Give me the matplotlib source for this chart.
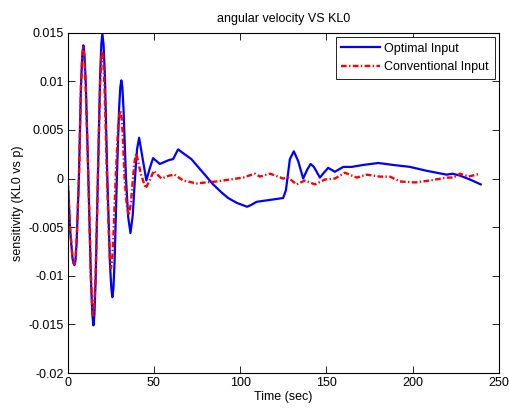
import numpy as np
import matplotlib
matplotlib.use('Agg')
import matplotlib.pyplot as plt
from matplotlib.ticker import FuncFormatter

plt.rcParams['font.family'] = ['Liberation Sans', 'DejaVu Sans']

# values
t_opt = [0, 1.5, 2.8, 3.3, 3.9, 4.5, 5.2, 6.5, 7.7, 8.5, 9.1, 9.7, 10.5, 12.0, 13.5,
         14.3, 14.9, 15.5, 16.2, 17.5, 18.8, 19.5, 20.1, 20.8, 21.6, 23.0, 24.5, 25.3,
         25.9, 26.5, 27.2, 28.5, 29.8, 30.5, 31.1, 31.7, 32.4, 33.8, 35.1, 36.4,
         37.7, 39.0, 40.2, 41.4, 43.5, 45.6, 47.5, 49.5, 53.4, 58.6, 61.1, 64.0, 67.0,
         71.7, 78.5, 84.3, 89.0, 93.0, 98.0, 104.0, 106.5, 109.4, 113.0, 117.2, 121.0,
         124.9, 126.5, 128.8, 131.1, 133.6, 136.5, 138.8, 140.8, 142.7, 146.2, 148.5,
         151.0, 154.9, 159.7, 164.6, 171.3, 180.0, 188.7, 198.4, 208.0, 219.7, 223.1,
         227.4, 233.2, 239.4]
v_opt = [0.0, -0.0055, -0.0082, -0.0087, -0.0089, -0.0085, -0.0065, 0.0, 0.0095,
         0.0128, 0.0137, 0.0128, 0.0098, 0.0, -0.0105, -0.0140, -0.0151, -0.0140,
         -0.0105, 0.0, 0.0105, 0.0138, 0.0149, 0.0138, 0.0105, 0.0, -0.0087, -0.0113,
         -0.0122, -0.0113, -0.0085, 0.0, 0.0072, 0.0094, 0.0101, 0.0094, 0.0070, 0.0,
         -0.0040, -0.0056, -0.0038, 0.0, 0.0030, 0.0042, 0.0020, -0.0002, 0.0010,
         0.0021, 0.0015, 0.0019, 0.0020, 0.0030, 0.0026, 0.0020, 0.0006, -0.0006,
         -0.0014, -0.0020, -0.0025, -0.0029, -0.0027, -0.0024, -0.0023, -0.0022,
         -0.0021, -0.0020, -0.0012, 0.0020, 0.0028, 0.0018, 0.0000, 0.0009, 0.0015,
         0.0012, 0.0001, 0.0006, 0.0011, 0.0007, 0.0012, 0.0012, 0.0014, 0.0016, 0.0014,
         0.0012, 0.0008, 0.0004, 0.0005, 0.0003, -0.0001, -0.0006]

t_conv = [0, 1.5, 2.8, 3.3, 3.9, 4.5, 5.2, 6.5, 7.7, 8.4, 9.0, 9.6, 10.4, 12.0, 13.4,
          14.2, 14.8, 15.4, 16.2, 17.5, 18.7, 19.4, 20.0, 20.6, 21.4, 22.8, 24.0, 24.6,
          25.1, 25.7, 26.4, 27.8, 29.1, 29.9, 30.5, 31.1, 31.8, 33.0, 34.2, 35.4,
          36.6, 37.8, 38.8, 39.8, 42.5, 45.2, 47.5, 49.9, 54.3, 58.8, 62.0, 66.9, 74.6,
          80.0, 86.2, 94.0, 101.7, 108.5, 111.4, 117.2, 120.5, 124.9, 127.8, 132.7,
          137.5, 143.3, 149.1, 154.9, 160.7, 167.5, 173.3, 181.0, 186.8, 192.6, 201.3,
          210.0, 219.7, 223.5, 227.4, 232.3, 239.0]
v_conv = [0.0, -0.0054, -0.0081, -0.0086, -0.0088, -0.0084, -0.0063, 0.0, 0.0094,
          0.0126, 0.0135, 0.0126, 0.0096, 0.0, -0.0098, -0.0131, -0.0141, -0.0131,
          -0.0099, 0.0, 0.0093, 0.0122, 0.0131, 0.0122, 0.0092, 0.0, -0.0065, -0.0086,
          -0.0092, -0.0086, -0.0064, 0.0, 0.0049, 0.0065, 0.0070, 0.0065, 0.0049, 0.0,
          -0.0027, -0.0038, -0.0026, 0.0, 0.0018, 0.0026, 0.0004, -0.0010, -0.0002,
          0.0008, 0.0000, 0.0003, 0.0004, -0.0002, -0.0005, -0.0004, -0.0003, -0.0001,
          0.0001, 0.0005, 0.0002, 0.0005, 0.0003, 0.0000, 0.0001, -0.0006, -0.0002,
          -0.0006, -0.0001, 0.0000, 0.0006, 0.0001, 0.0004, 0.0002, 0.0002, -0.0003,
          -0.0004, -0.0002, 0.0001, 0.0001, 0.0005, 0.0002, 0.0005]

x_ticks = [0, 50, 100, 150, 200, 250]
y_ticks = [-0.02, -0.015, -0.01, -0.005, 0, 0.005, 0.01, 0.015]

fig = plt.figure(figsize=(5.1, 4.09), dpi=100)
ax = fig.add_axes([0.1327, 0.088, 0.8457, 0.832])

ax.plot(t_opt, v_opt, color='b', lw=1.6, label='Optimal Input')
ax.plot(t_conv, v_conv, color='r', lw=1.7, ls=(0, (2.4, 1.0, 0.6, 1.0)),
        label='Conventional Input')

ax.set_xlim(0, 250)
ax.set_ylim(-0.02, 0.015)
ax.set_xticks(x_ticks)
ax.set_yticks(y_ticks)
ax.yaxis.set_major_formatter(FuncFormatter(lambda v, p: '%g' % round(v, 4)))
ax.tick_params(direction='in', top=True, right=True, length=5, width=0.6,
               labelsize=9, pad=3)
for s in ax.spines.values():
    s.set_linewidth(0.8)

ax.set_xlabel('Time (sec)', fontsize=9, labelpad=1)
ax.set_ylabel('sensitivity (KL0 vs p)', fontsize=9, labelpad=3)
ax.set_title('angular velocity VS KL0', fontsize=9, pad=8)

leg = ax.legend(loc='upper right', fontsize=9, fancybox=False, framealpha=1,
                edgecolor='k', borderaxespad=0.35, handlelength=3.1,
                handletextpad=0.35, borderpad=0.45)
leg.get_frame().set_linewidth(0.6)

fig.savefig('out.png', dpi=100)
